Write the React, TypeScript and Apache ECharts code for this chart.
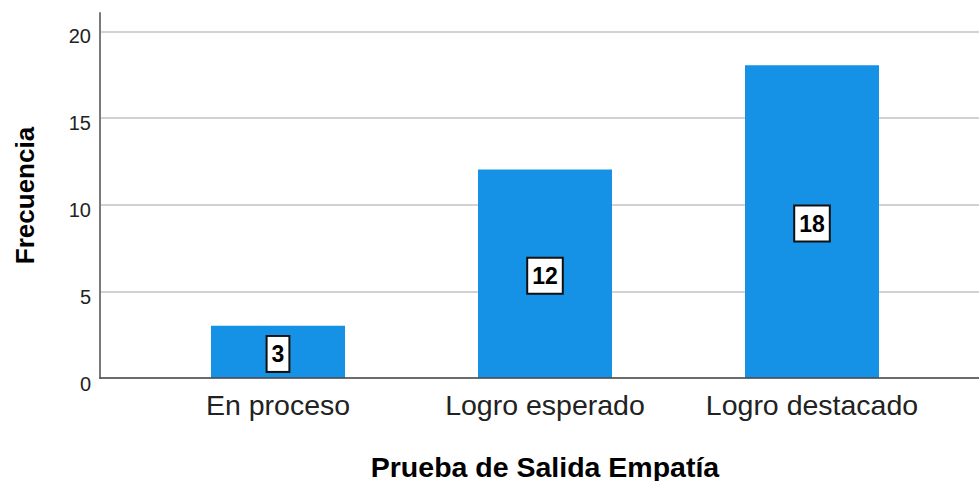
import React, { useEffect, useRef } from "react";
import * as echarts from "echarts";

const categories = ["En proceso", "Logro esperado", "Logro destacado"];
const values = [3, 12, 18];
const yTicks = [0, 5, 10, 15, 20];
const yTitle = "Frecuencia";
const xTitle = "Prueba de Salida Empatía";

const FONT = "'Liberation Sans', Arial, sans-serif";

export default function App() {
  const ref = useRef<HTMLDivElement>(null);
  useEffect(() => {
    document.body.style.margin = "0";
    const chart = echarts.init(ref.current!, null, { renderer: "svg" });
    const option: any = {
      animation: false,
      backgroundColor: "#ffffff",
      textStyle: { fontFamily: FONT },
      grid: [
        // gridlines (0..20)
        { left: 100, right: 0, top: 31.6, bottom: 103, outerBoundsMode: "none", containLabel: false },
        // bars (0..21)
        { left: 144.5, width: 801, top: 13, bottom: 103, outerBoundsMode: "none", containLabel: false },
        // axis lines + tick labels (0..21)
        { left: 100, right: 0, top: 13, bottom: 103, outerBoundsMode: "none", containLabel: false },
      ],
      xAxis: [
        {
          type: "value",
          gridIndex: 0,
          min: 0,
          max: 1,
          axisLine: { show: false },
          axisTick: { show: false },
          axisLabel: { show: false },
          splitLine: { show: false },
        },
        {
          type: "category",
          gridIndex: 1,
          data: categories,
          axisLine: { show: false },
          axisTick: { show: false },
          axisLabel: {
            color: "#222",
            fontSize: 28.5,
            fontFamily: FONT,
            margin: 12,
            interval: 0,
          },
          name: xTitle,
          nameLocation: "middle",
          nameGap: 74,
          nameTextStyle: {
            color: "#000",
            fontSize: 28.5,
            fontWeight: "bold",
            fontFamily: FONT,
          },
        },
        {
          type: "value",
          gridIndex: 2,
          min: 0,
          max: 1,
          z: 5,
          axisLine: { show: true, lineStyle: { color: "#4a4a4a", width: 1.5 } },
          axisTick: { show: false },
          axisLabel: { show: false },
          splitLine: { show: false },
        },
      ],
      yAxis: [
        {
          type: "value",
          gridIndex: 0,
          min: 0,
          max: 20,
          interval: 5,
          axisLine: { show: false },
          axisTick: { show: false },
          axisLabel: { show: false },
          splitLine: { show: true, lineStyle: { color: "#d2d2d2", width: 2 } },
        },
        {
          type: "value",
          gridIndex: 1,
          min: 0,
          max: 21,
          show: false,
          splitLine: { show: false },
        },
        {
          type: "value",
          gridIndex: 2,
          min: 0,
          max: 21,
          interval: 5,
          z: 5,
          axisLine: { show: true, lineStyle: { color: "#7a7a7a", width: 2 } },
          axisTick: { show: false },
          splitLine: { show: false },
          axisLabel: {
            color: "#222",
            fontSize: 20,
            fontFamily: FONT,
            margin: 9,
            verticalAlign: "top",
            padding: [-4, 0, 0, 0],
            formatter: (v: number) => (yTicks.includes(v) ? String(v) : ""),
          },
          name: yTitle,
          nameLocation: "middle",
          nameRotate: 90,
          nameGap: 62,
          nameTextStyle: {
            color: "#000",
            fontSize: 26,
            fontWeight: "bold",
            fontFamily: FONT,
          },
        },
      ],
      series: [
        {
          type: "bar",
          xAxisIndex: 1,
          yAxisIndex: 1,
          data: values,
          barWidth: 134,
          itemStyle: { color: "#1591e6" },
          label: {
            show: true,
            position: "inside",
            offset: [0, 2],
            color: "#000",
            fontSize: 23,
            fontWeight: "bold",
            fontFamily: FONT,
            backgroundColor: "#ffffff",
            borderColor: "#111",
            borderWidth: 2,
            padding: [6, 4, 5, 4],
          },
        },
      ],
    };
    chart.setOption(option);
    return () => chart.dispose();
  }, []);
  return (
    <div
      ref={ref}
      style={{ position: "fixed", left: 0, top: 0, width: 979, height: 481 }}
    />
  );
}
